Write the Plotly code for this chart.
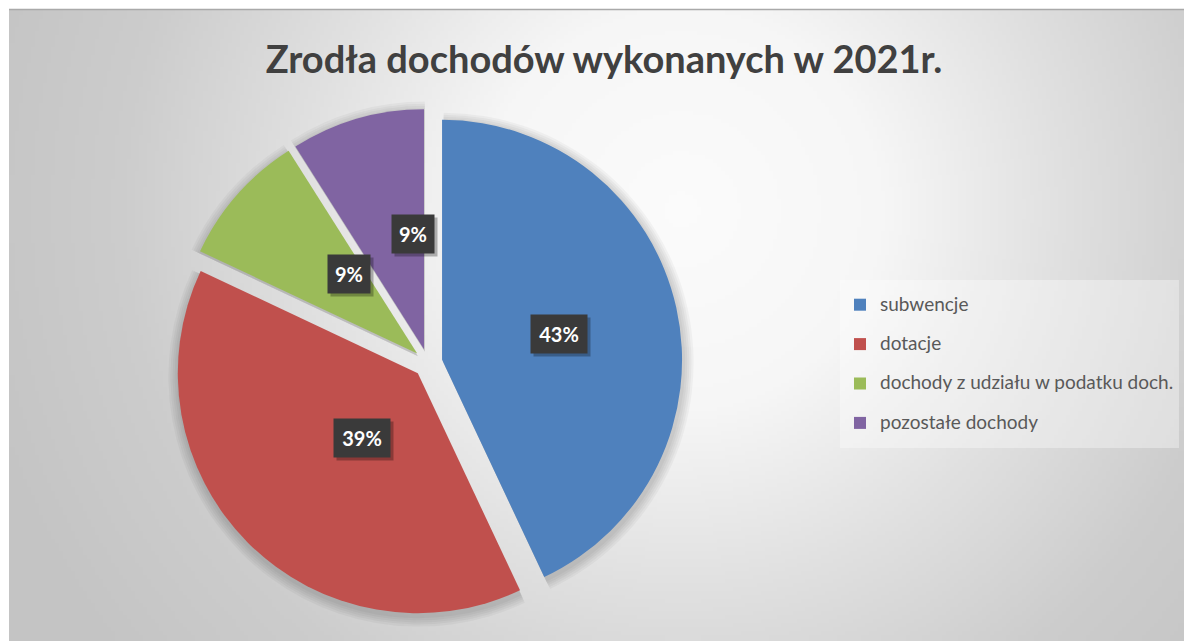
import math
import zlib
import struct
import base64
import plotly.graph_objects as go

# ---------------- data ----------------
labels = ["subwencje", "dotacje", "dochody z udziału w podatku doch.", "pozostałe dochody"]
values = [43, 39, 9, 9]
colors = ["#4f81bd", "#c0504d", "#9bbb59", "#8064a2"]
title_text = "Zrodła dochodów wykonanych w 2021r."

# ---------------- geometry / style ----------------
W, H = 1184, 641
PULL = 0.06
CX, CY, R = 428, 363, 240          # pie centre & radius (px)
FX, FY = 9, 9                      # chart frame top-left (white strip outside)


def pie_domain(cx, cy, r):
    half = r * (1 + PULL)
    return dict(x=[(cx - half) / W, (cx + half) / W],
                y=[1 - (cy + half) / H, 1 - (cy - half) / H])


def px(x):
    return x / W


def py(y):
    return 1 - y / H


# ---------------- background: radial grey gradient as a small PNG ----------------
def gradient_png():
    s = 4
    gw, gh = (W - FX) // s, (H - FY) // s
    gcx, gcy = 680, 210
    pd_ = [0, 200, 380, 560, 720, 2000]
    pv_ = [251, 246, 224, 204, 196, 196]

    def val(d):
        for j in range(len(pd_) - 1):
            if d <= pd_[j + 1]:
                t = (d - pd_[j]) / (pd_[j + 1] - pd_[j])
                return pv_[j] + t * (pv_[j + 1] - pv_[j])
        return pv_[-1]

    raw = bytearray()
    for yy in range(gh):
        raw.append(0)
        Y = FY + (yy + 0.5) * s
        for xx in range(gw):
            X = FX + (xx + 0.5) * s
            d = math.hypot(X - gcx, Y - gcy)
            raw.append(int(round(val(d))))

    def chunk(tag, data):
        c = struct.pack(">I", len(data)) + tag + data
        return c + struct.pack(">I", zlib.crc32(tag + data) & 0xffffffff)

    png = b"\x89PNG\r\n\x1a\n"
    png += chunk(b"IHDR", struct.pack(">IIBBBBB", gw, gh, 8, 0, 0, 0, 0))
    png += chunk(b"IDAT", zlib.compress(bytes(raw), 9))
    png += chunk(b"IEND", b"")
    return "data:image/png;base64," + base64.b64encode(png).decode()


fig = go.Figure()

# soft shadow under the pie (stacked translucent copies)
for k in [10, 8, 6, 4, 2]:
    fig.add_trace(go.Pie(
        labels=labels, values=values, sort=False, direction="clockwise",
        pull=[PULL] * len(values), domain=pie_domain(CX + 1, CY + 3, R + k),
        marker=dict(colors=["rgba(0,0,0,0.035)"] * len(values), line=dict(width=0)),
        textinfo="none", hoverinfo="skip", showlegend=False,
    ))

fig.add_trace(go.Pie(
    labels=[f'<span style="font-size:19px;baseline-shift:5px">{l}</span>' for l in labels],
    values=values, sort=False, direction="clockwise",
    pull=[PULL] * len(values), domain=pie_domain(CX, CY, R),
    marker=dict(colors=colors, line=dict(width=0)),
    textinfo="none", hoverinfo="label+percent", showlegend=True,
))

shapes = [dict(type="line", xref="paper", yref="paper", x0=px(FX), x1=px(W), y0=py(FY + 0.5),
               y1=py(FY + 0.5), line=dict(color="#a9a9a9", width=1.5), layer="below")]

images = [dict(source=gradient_png(), xref="paper", yref="paper", x=px(FX), y=py(FY),
               sizex=(W - FX) / W, sizey=(H - FY) / H, sizing="stretch",
               xanchor="left", yanchor="top", layer="below")]

# ---------------- data labels (boxes) ----------------
annotations = []
total = sum(values)
cum = 0
for v in values:
    mid = (cum + v / 2) / total
    cum += v
    th = 2 * math.pi * mid
    dist = PULL * R + 0.5 * R
    lx = CX + dist * math.sin(th)
    ly = CY - dist * math.cos(th)
    txt = f"{round(100 * v / total)}%"
    bw = 42 if len(txt) == 3 else 28
    annotations.append(dict(x=px(lx + 3), y=py(ly + 3), xref="paper", yref="paper", text=" ",
                            width=bw, height=24, showarrow=False, bgcolor="rgba(0,0,0,0.28)",
                            borderpad=7, font=dict(family="Lato", size=20)))
    annotations.append(dict(x=px(lx), y=py(ly), xref="paper", yref="paper", text=txt,
                            width=bw, height=24, showarrow=False, bgcolor="#3a3a3a", borderpad=7,
                            font=dict(family="Lato", size=20, color="white", weight="bold")))

fig.update_layout(
    width=W, height=H,
    margin=dict(l=0, r=0, t=0, b=0),
    paper_bgcolor="white",
    title=dict(text=title_text, x=604 / W, xanchor="center", y=py(60), yanchor="middle",
               xref="container", yref="container",
               font=dict(family="Lato", size=38, color="#404040", weight="bold")),
    legend=dict(x=px(840), xanchor="left", y=py(364), yanchor="middle",
                font=dict(family="Lato", size=28, color="#595959"),
                bgcolor="rgba(255,255,255,0.35)", borderwidth=0, traceorder="normal"),
    shapes=shapes,
    images=images,
    annotations=annotations,
)

fig.write_html("out.html", config={"displayModeBar": False},
               post_script="document.body.style.margin='0';document.body.style.overflow='hidden';")
